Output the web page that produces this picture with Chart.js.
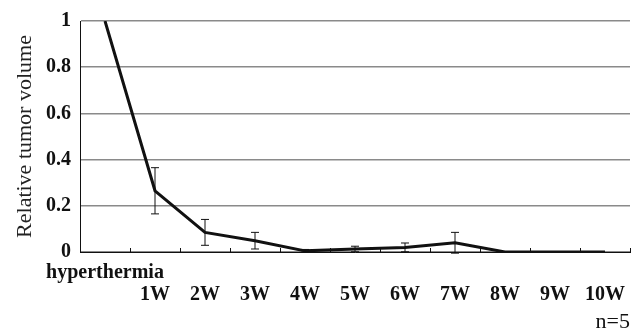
<!DOCTYPE html>
<html>
<head>
<meta charset="utf-8">
<script src="https://cdn.jsdelivr.net/npm/chart.js@4/dist/chart.umd.min.js"></script>
<style>
  html, body { margin: 0; padding: 0; background: #fff; }
  #grafico { display: block; }
</style>
</head>
<body>
<canvas id="grafico" width="638" height="333"></canvas>
<script>
// dados
const semanas = ['hyperthermia', '1W', '2W', '3W', '4W', '5W', '6W', '7W', '8W', '9W', '10W'];
const volumeRelativo = [1, 0.265, 0.085, 0.049, 0.005, 0.013, 0.02, 0.04, 0, 0, 0];
const erroPadrao = [0, 0.1, 0.056, 0.036, 0.006, 0.012, 0.019, 0.045, 0, 0, 0];
const ticksY = [0, 0.2, 0.4, 0.6, 0.8, 1];

// primeira categoria na linha de cima, semanas na linha de baixo
const rotulos = semanas.map((s, i) => i === 0 ? [s, ''] : ['', s]);

const fonteSerif = '"Liberation Serif", "Times New Roman", serif';

// barras de erro desenhadas pela escala y
const barrasErro = {
  id: 'barrasErro',
  afterDatasetsDraw(chart) {
    const ctx = chart.ctx;
    const x = chart.scales.x;
    const y = chart.scales.y;
    ctx.save();
    ctx.strokeStyle = '#111';
    ctx.lineWidth = 1;
    volumeRelativo.forEach((v, i) => {
      const e = erroPadrao[i];
      if (!e) return;
      const px = x.getPixelForValue(i);
      const topo = y.getPixelForValue(v + e);
      const base = y.getPixelForValue(v - e);
      ctx.beginPath();
      ctx.moveTo(px, topo); ctx.lineTo(px, base);
      ctx.moveTo(px - 4, topo); ctx.lineTo(px + 4, topo);
      ctx.moveTo(px - 4, base); ctx.lineTo(px + 4, base);
      ctx.stroke();
    });
    ctx.restore();
  }
};

// marcas do eixo x voltadas para dentro, entre as categorias
const marcasX = {
  id: 'marcasX',
  afterDraw(chart) {
    const ctx = chart.ctx;
    const x = chart.scales.x;
    const base = chart.chartArea.bottom;
    ctx.save();
    ctx.strokeStyle = '#111';
    ctx.lineWidth = 1;
    ctx.beginPath();
    for (let i = 0; i < semanas.length; i++) {
      const px = i < semanas.length - 1
        ? (x.getPixelForValue(i) + x.getPixelForValue(i + 1)) / 2
        : x.right;
      ctx.moveTo(Math.round(px) + 0.5, base);
      ctx.lineTo(Math.round(px) + 0.5, base - 4);
    }
    ctx.stroke();
    ctx.restore();
  }
};

new Chart(document.getElementById('grafico').getContext('2d'), {
  type: 'line',
  data: {
    labels: rotulos,
    datasets: [{
      label: 'Relative tumor volume',
      data: volumeRelativo,
      borderColor: '#111',
      borderWidth: 3,
      pointRadius: 0,
      tension: 0,
      fill: false
    }]
  },
  options: {
    responsive: false,
    animation: false,
    layout: { padding: { top: 21, right: 8, left: 0, bottom: 0 } },
    plugins: {
      legend: { display: false },
      tooltip: { enabled: false },
      title: {
        display: true,
        text: 'n=5',
        position: 'bottom',
        align: 'end',
        color: '#111',
        font: { family: fonteSerif, size: 22, weight: 'normal', lineHeight: 1 },
        padding: { top: 0, bottom: 0 }
      }
    },
    scales: {
      x: {
        offset: true,
        grid: { display: false, drawTicks: false },
        border: { display: true, color: '#111', width: 1 },
        ticks: {
          autoSkip: false,
          maxRotation: 0,
          color: '#111',
          padding: 10,
          font: { family: fonteSerif, size: 20, weight: 'bold', lineHeight: 1.1 }
        },
        afterFit(scale) { scale.height = 59; }
      },
      y: {
        min: 0,
        max: 1,
        afterBuildTicks(scale) { scale.ticks = ticksY.map(v => ({ value: v })); },
        grid: { color: '#8a8a8a', lineWidth: 1.4, drawTicks: false },
        border: { display: true, color: '#111', width: 1 },
        ticks: {
          color: '#111',
          padding: 9,
          callback: v => String(Math.round(v * 10) / 10),
          font: { family: fonteSerif, size: 20, weight: 'bold' }
        },
        title: {
          display: true,
          text: 'Relative tumor volume',
          color: '#222',
          font: { family: fonteSerif, size: 22, weight: 'normal', lineHeight: 1.2 },
          padding: { top: 12, bottom: 0 }
        },
        afterFit(scale) { scale.width = 80; }
      }
    }
  },
  plugins: [barrasErro, marcasX]
});
</script>
</body>
</html>
